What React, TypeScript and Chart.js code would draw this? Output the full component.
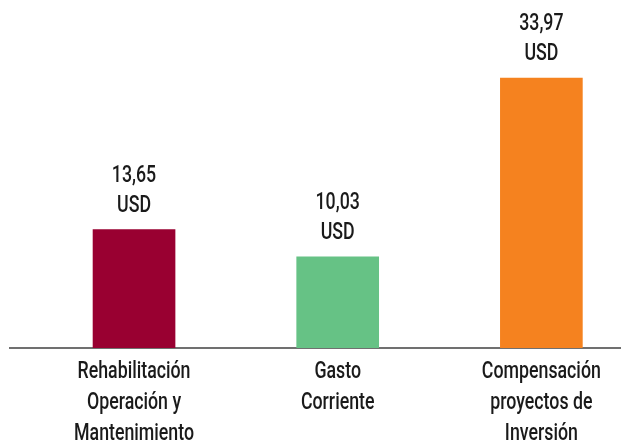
import React, { useEffect, useRef } from "react";
import { Chart, registerables } from "chart.js";

Chart.register(...registerables);

const CATEGORIES: string[][] = [
  ["Rehabilitación", "Operación y", "Mantenimiento"],
  ["Gasto", "Corriente"],
  ["Compensación", "proyectos de", "Inversión"],
];
const VALUES: number[] = [13.65, 10.03, 33.97];
const VALUE_TEXT: string[] = ["13,65", "10,03", "33,97"];
const UNIT = "USD";
const COLORS: string[] = ["#990031", "#66c285", "#f5821f"];

const FONT = "Roboto, 'Liberation Sans', Arial, sans-serif";
const FONT_SIZE = 24;
const SQUEEZE = 0.74;
const TEXT_COLOR = "#1a1a1a";
const Y_MIN = -2.2;
const Y_MAX = 44.42;

function drawCondensed(ctx: CanvasRenderingContext2D, text: string, x: number, y: number) {
  ctx.save();
  ctx.scale(SQUEEZE, 1);
  ctx.fillText(text, x / SQUEEZE, y);
  ctx.restore();
}

const textLabels = {
  id: "textLabels",
  afterDatasetsDraw(chart: any) {
    const ctx: CanvasRenderingContext2D = chart.ctx;
    const meta = chart.getDatasetMeta(0);
    const xScale = chart.scales.x;
    const bottom = chart.chartArea.bottom;
    ctx.save();
    ctx.fillStyle = TEXT_COLOR;
    ctx.font = `500 ${FONT_SIZE}px ${FONT}`;
    ctx.textAlign = "center";
    ctx.textBaseline = "alphabetic";
    meta.data.forEach((el: any, i: number) => {
      drawCondensed(ctx, UNIT, el.x, el.y - 18);
      drawCondensed(ctx, VALUE_TEXT[i], el.x, el.y - 48);
    });
    CATEGORIES.forEach((lines, i) => {
      const x = xScale.getPixelForValue(i);
      lines.forEach((line, j) => {
        drawCondensed(ctx, line, x, bottom + 30 + j * 31);
      });
    });
    ctx.restore();
  },
};

export default function App() {
  const ref = useRef<HTMLCanvasElement | null>(null);
  useEffect(() => {
    if (!ref.current) return;
    const chart = new Chart(ref.current, {
      type: "bar",
      data: {
        datasets: [
          {
            data: VALUES.map((v, i) => ({ x: i, y: v })),
            backgroundColor: COLORS,
            borderWidth: 0,
            barThickness: 82,
            base: Y_MIN,
          } as any,
        ],
      },
      options: {
        animation: false,
        responsive: true,
        maintainAspectRatio: false,
        layout: { padding: { left: 10, right: 0, top: 0, bottom: 0 } },
        plugins: { legend: { display: false }, tooltip: { enabled: false } },
        scales: {
          x: {
            type: "linear",
            offset: false,
            min: -0.609,
            max: 2.391,
            afterBuildTicks: (scale: any) => {
              scale.ticks = CATEGORIES.map((_, i) => ({ value: i }));
            },
            afterFit: (scale: any) => {
              scale.height = 93;
            },
            grid: { display: false, drawTicks: false },
            border: { display: true, color: "#707070", width: 2 },
            ticks: { display: false },
          },
          y: {
            display: false,
            min: Y_MIN,
            max: Y_MAX,
          },
        },
      },
      plugins: [textLabels],
    });
    return () => chart.destroy();
  }, []);
  return (
    <div style={{ position: "fixed", left: 0, top: 0, width: 621, height: 441, background: "#fff" }}>
      <canvas ref={ref} />
    </div>
  );
}
